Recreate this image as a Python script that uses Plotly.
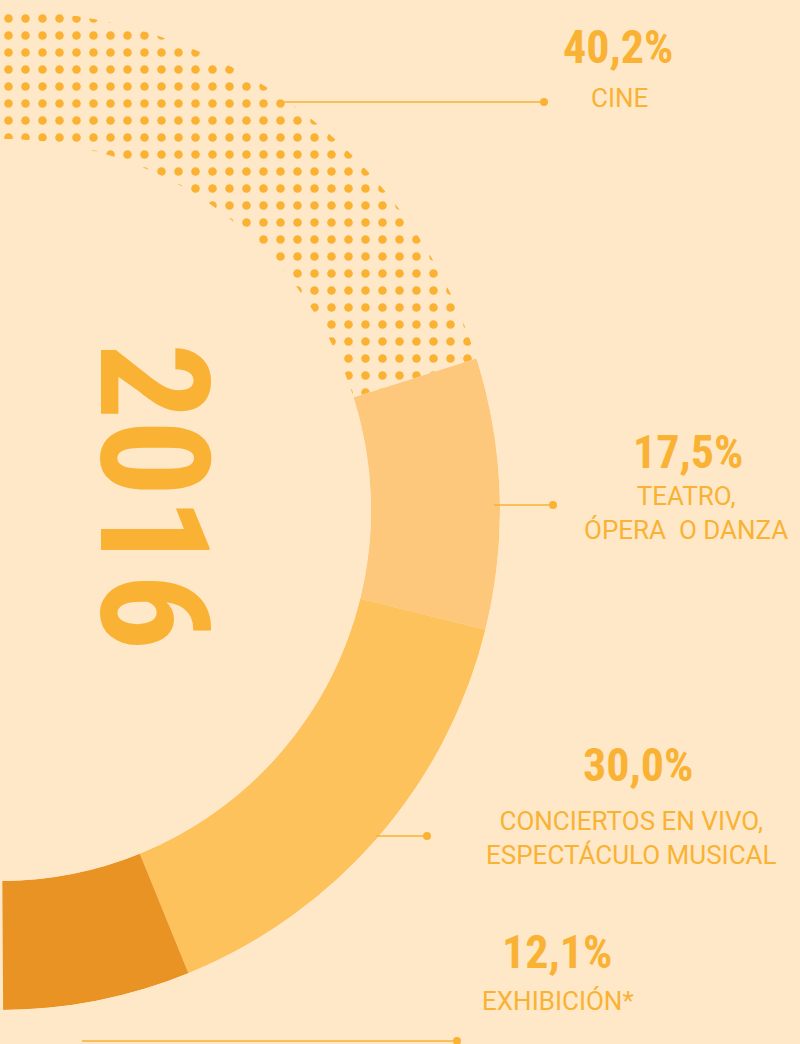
import plotly.graph_objects as go

# datos (porcentaje de asistencia, 2016)
categorias = ["CINE", "TEATRO,<br>ÓPERA\u00a0 O DANZA", "CONCIERTOS EN VIVO,<br>ESPECTÁCULO MUSICAL", "EXHIBICIÓN*"]
porcentajes = [40.2, 17.5, 30.0, 12.1]
etiquetas_pct = ["40,2%", "17,5%", "30,0%", "12,1%"]
anio = "2016"

W, H = 800, 1044
FONDO = "#FEE8C8"
NARANJA = "#F9B233"
colores = ["#FBB232", "#FEC87C", "#FDC25C", "#E89323"]

# medio donut: 100% ocupa 180 grados
anchos = [p * 180 / 100 for p in porcentajes]
centros = []
acum = 0
for a in anchos:
    centros.append(acum + a / 2)
    acum += a

fig = go.Figure(go.Barpolar(
    r=[1] * len(porcentajes),
    theta=centros,
    width=anchos,
    marker=dict(
        color=colores,
        line=dict(width=0),
        # CINE va punteado: el color del segmento pasa a ser el de los puntos
        pattern=dict(shape=[".", "", "", ""], bgcolor=FONDO,
                     size=17, solidity=0.2, fillmode="replace"),
    ),
    hovertext=[c.replace("<br>", " ") for c in categorias],
    hoverinfo="text",
    showlegend=False,
))


def px(x):
    return x / W


def py(y):
    return 1 - y / H


# posiciones de los rotulos (en pixeles de la imagen)
pos_pct = [(618, 47), (688, 452), (638, 765), (557, 952)]
pos_cat = [(619, 98), (686, 513), (631, 838), (558, 1001)]
lineas = [(280, 544, 102), (494, 553, 505), (376, 427, 836), (82, 457, 1041)]

fuente_num = "Roboto Condensed, Liberation Sans Narrow, sans-serif"

annotations = []
for txt, (x, y) in zip(etiquetas_pct, pos_pct):
    annotations.append(dict(x=px(x), y=py(y), xref="paper", yref="paper", text=txt,
                            showarrow=False, xanchor="center", yanchor="middle",
                            font=dict(family=fuente_num, size=46, color=NARANJA, weight="bold")))
for txt, (x, y) in zip(categorias, pos_cat):
    annotations.append(dict(x=px(x), y=py(y), xref="paper", yref="paper", text=txt,
                            showarrow=False, xanchor="center", yanchor="middle", align="center",
                            font=dict(family="Roboto, sans-serif", size=26, color=NARANJA)))
annotations.append(dict(x=px(153), y=py(496), xref="paper", yref="paper", text=anio,
                        showarrow=False, textangle=90, xanchor="center", yanchor="middle",
                        font=dict(family=fuente_num, size=152, color=NARANJA, weight="bold")))

shapes = []
for x0, x1, y in lineas:
    shapes.append(dict(type="line", xref="paper", yref="paper", x0=px(x0), x1=px(x1),
                       y0=py(y), y1=py(y), line=dict(color=NARANJA, width=1.6)))
    shapes.append(dict(type="circle", xref="paper", yref="paper",
                       x0=px(x1 - 4), x1=px(x1 + 4), y0=py(y + 4), y1=py(y - 4),
                       fillcolor=NARANJA, line=dict(width=0)))

fig.update_layout(
    width=W, height=H,
    margin=dict(l=0, r=0, t=0, b=0),
    paper_bgcolor=FONDO,
    plot_bgcolor=FONDO,
    polar=dict(
        domain=dict(x=[0, 500 / W], y=[py(1010), py(10)]),
        sector=[-90, 90],
        hole=0.742,
        bgcolor=FONDO,
        radialaxis=dict(visible=False, range=[0, 1]),
        angularaxis=dict(visible=False, rotation=90, direction="clockwise"),
    ),
    annotations=annotations,
    shapes=shapes,
)

# quitar el margen por defecto del body para que la figura llene la ventana
fig.write_html("out.html", config={"displayModeBar": False},
               post_script="document.body.style.margin='0';")
